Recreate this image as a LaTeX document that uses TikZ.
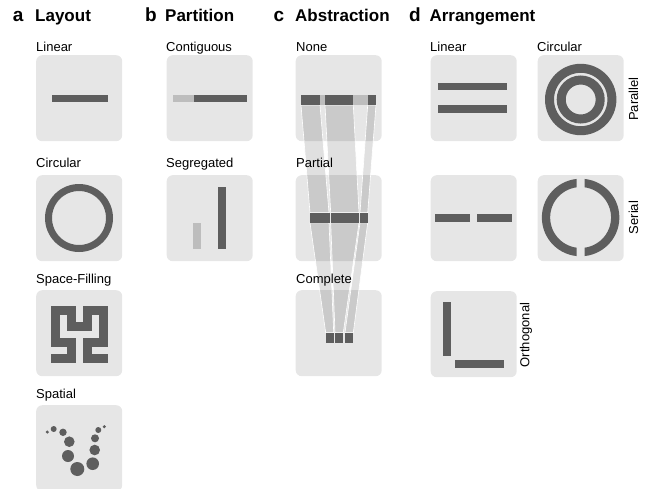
\documentclass[tikz,border=0pt]{standalone}
\usepackage{fontspec}
\setmainfont{Liberation Sans}
\definecolor{boxc}{HTML}{E6E6E6}
\definecolor{darkc}{HTML}{5E5E5E}
\definecolor{lightc}{HTML}{BDBDBD}
\begin{document}
\begin{tikzpicture}[x=1pt,y=-1pt,
  panel/.style={draw=none, fill=boxc, rounded corners=6pt, minimum width=86pt, minimum height=86pt, inner sep=0pt, anchor=north west},
  lbl/.style={anchor=base west, inner sep=0pt, font=\fontsize{13}{15}\selectfont},
  rlbl/.style={rotate=90, inner sep=0pt, font=\fontsize{13}{15}\selectfont},
  hdr/.style={anchor=base west, inner sep=0pt, font=\fontsize{17}{20}\selectfont\bfseries},
  letr/.style={anchor=base west, inner sep=0pt, font=\fontsize{19}{22}\selectfont\bfseries},
  bar/.style={fill=darkc},
  lbar/.style={fill=lightc},
  ribbon/.style={fill=black, fill opacity=0.12, draw=white, line width=0.6pt}
]
\useasboundingbox (0,0) rectangle (647,488);

% headers
\node[letr] (la) at (12.7,21.7) {a};
\node[hdr] (ha) at (35,21.7) {Layout};
\node[letr] (lb) at (145,21.7) {b};
\node[hdr] (hb) at (165,21.7) {Partition};
\node[letr] (lc) at (273.3,21.7) {c};
\node[hdr] (hc) at (295,21.7) {Abstraction};
\node[letr] (ld) at (409,21.7) {d};
\node[hdr] (hd) at (429.3,21.7) {Arrangement};

% panels
\node[panel] (a1) at (36,55) {};
\node[panel] (a2) at (36,175) {};
\node[panel] (a3) at (36,290) {};
\node[panel] (a4) at (36,405) {};
\node[panel] (b1) at (166.5,55) {};
\node[panel] (b2) at (166.5,175) {};
\node[panel] (c1) at (295.5,55) {};
\node[panel] (c2) at (295.5,175) {};
\node[panel] (c3) at (295.5,290) {};
\node[panel] (d1) at (430.5,55) {};
\node[panel] (d2) at (537.5,55) {};
\node[panel] (d3) at (430.5,175) {};
\node[panel] (d4) at (537.5,175) {};
\node[panel] (d5) at (430.5,291) {};

% c: abstraction ribbons (behind labels)
\path[ribbon] (301,105) -- (320,105) -- (329,212.7) -- (310,212.7) -- cycle;
\path[ribbon] (325,105) -- (353.3,105) -- (359,212.7) -- (330.7,212.7) -- cycle;
\path[ribbon] (367.7,105) -- (376,105) -- (367.7,212.7) -- (360,212.7) -- cycle;
\path[ribbon] (310,222.7) -- (329,222.7) -- (333.7,332.7) -- (325.7,332.7) -- cycle;
\path[ribbon] (330.7,222.7) -- (359,222.7) -- (343.3,332.7) -- (335,332.7) -- cycle;
\path[ribbon] (360,222.7) -- (367.7,222.7) -- (353.3,332.7) -- (345,332.7) -- cycle;

% labels
\node[lbl] (ta1) at (36,51) {Linear};
\node[lbl] (ta2) at (36,167) {Circular};
\node[lbl] (ta3) at (36,283) {Space-Filling};
\node[lbl] (ta4) at (36,398) {Spatial};
\node[lbl] (tb1) at (166,51) {Contiguous};
\node[lbl] (tb2) at (166,167) {Segregated};
\node[lbl] (tc1) at (296,51) {None};
\node[lbl] (tc2) at (296,167) {Partial};
\node[lbl] (tc3) at (296,283) {Complete};
\node[lbl] (td1) at (430,51) {Linear};
\node[lbl] (td2) at (537,51) {Circular};
\node[rlbl] (td3) at (633.5,99) {Parallel};
\node[rlbl] (td4) at (633.5,217.5) {Serial};
\node[rlbl] (td5) at (526,335) {Orthogonal};

% a: layout glyphs
\fill[bar] (52,95) rectangle (108,102);
\draw[darkc, line width=7pt] (79,218) circle (30.5);
\draw[darkc, line width=8.8pt, line cap=rect, line join=miter]
  (55.5,358.5) -- (71.5,358.5) -- (71.5,342.5) -- (55.5,342.5) -- (55.5,326.5) -- (55.5,310.5)
  -- (71.5,310.5) -- (71.5,326.5) -- (87.5,326.5) -- (87.5,310.5) -- (103.5,310.5) -- (103.5,326.5)
  -- (103.5,342.5) -- (87.5,342.5) -- (87.5,358.5) -- (103.5,358.5);
\fill[darkc] (47.3,432) circle (1.7);
\fill[darkc] (53.7,429) circle (3);
\fill[darkc] (63,432.3) circle (3.7);
\fill[darkc] (69.3,441.7) circle (5.3);
\fill[darkc] (68,456) circle (6);
\fill[darkc] (77.3,469) circle (7);
\fill[darkc] (92.7,463.7) circle (6.3);
\fill[darkc] (94.7,450) circle (5.3);
\fill[darkc] (95,438.3) circle (4);
\fill[darkc] (98.3,430) circle (3);
\fill[darkc] (104.3,426.7) circle (1.7);

% b: partition glyphs
\fill[lbar] (173.3,95) rectangle (194,102.3);
\fill[bar] (194,95) rectangle (246.7,102.3);
\fill[lbar] (192.7,222.7) rectangle (201,249.3);
\fill[bar] (218.3,186.7) rectangle (226,249.3);

% c: bars
\fill[lbar] (301,95) rectangle (376,105);
\fill[bar] (301,95) rectangle (320,105);
\fill[bar] (325,95) rectangle (353.3,105);
\fill[bar] (367.7,95) rectangle (376,105);
\fill[bar] (310,212.7) rectangle (329.5,222.7);
\fill[bar] (330.5,212.7) rectangle (359.3,222.7);
\fill[bar] (360.3,212.7) rectangle (367.7,222.7);
\fill[bar] (325.7,332.7) rectangle (333.7,342.7);
\fill[bar] (335,332.7) rectangle (343.3,342.7);
\fill[bar] (345,332.7) rectangle (353.3,342.7);

% d: arrangement glyphs
\fill[bar] (437.7,82.7) rectangle (507.3,90);
\fill[bar] (437.7,105) rectangle (507.3,112.7);
\draw[darkc, line width=9pt] (580.7,99.5) circle (31.2);
\draw[darkc, line width=9pt] (580.7,99.5) circle (19.5);
\fill[bar] (435,214) rectangle (470,221.7);
\fill[bar] (476.7,214) rectangle (511.7,221.7);
\begin{scope}
  \clip (584.7,170) rectangle (630,265);
  \draw[darkc, line width=8.3pt] (580.6,217.5) circle (34.6);
\end{scope}
\begin{scope}
  \clip (530,170) rectangle (576.5,265);
  \draw[darkc, line width=8.3pt] (580.6,217.5) circle (34.6);
\end{scope}
\fill[bar] (443.3,302.3) rectangle (451,355.7);
\fill[bar] (455,360) rectangle (504,367.7);
\end{tikzpicture}
\end{document}
